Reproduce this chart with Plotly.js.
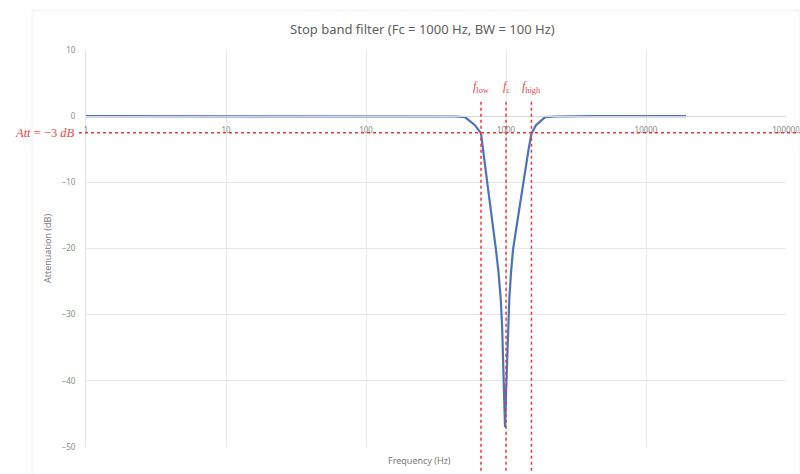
<!DOCTYPE html>
<html>
<head>
<meta charset="utf-8">
<script src="https://cdn.plot.ly/plotly-3.0.1.min.js"></script>
<style>html,body{margin:0;padding:0;background:#fff;}#chart{width:800px;height:474px;}</style>
</head>
<body>
<div id="chart"></div>
<script>
// Frequency response
var freq = [1, 10, 100, 200, 300, 432, 509, 600, 663, 689, 716, 747, 781, 814, 848, 884, 917, 939, 956, 969, 984, 1000, 1015, 1033, 1056, 1086, 1122, 1179, 1239, 1308, 1378, 1448, 1521, 1638, 1900, 2276, 4000, 10000, 19300];
var att  = [0, 0, 0, 0, 0, -0.05, -0.15, -1.36, -2.6, -5.1, -8.2, -11.2, -14.2, -17.2, -20.2, -23.6, -27.6, -32, -37, -42, -47, -42, -37, -32, -27.6, -23.6, -20.2, -17.2, -14.2, -11.2, -8.2, -5.1, -2.6, -1.36, -0.15, -0.05, 0, 0, 0];

// Marker lines
var markerFreqs = [663, 1000, 1520];
var markerLabels = ['<i>f</i><sub>low</sub>', '<i>f</i><sub>c</sub>', '<i>f</i><sub>high</sub>'];
var attLevel = -2.5;
var attLabel = '<i>Att</i> = −3 <i>dB</i>';

// Axis ticks
var xTickVals = [1, 10, 100, 1000, 10000, 100000];
var xTickText = ['1', '10', '100', '1000', '10000', '100000'];
var yTickVals = [10, 0, -10, -20, -30, -40, -50];

var red = '#e8393a';
var shapes = [];
markerFreqs.forEach(function (f) {
  shapes.push({type: 'line', xref: 'x', yref: 'paper', x0: f, x1: f, y0: -0.06, y1: 0.877,
               line: {color: red, width: 1.5, dash: 'dot'}});
});
shapes.push({type: 'line', xref: 'paper', yref: 'y', x0: -0.01, x1: 1.03, y0: attLevel, y1: attLevel,
             line: {color: red, width: 1.5, dash: 'dot'}});
shapes.push({type: 'rect', xref: 'paper', yref: 'paper', x0: -0.077, x1: 1.02, y0: -0.07, y1: 1.1,
             line: {color: '#f0f0f0', width: 1}, fillcolor: 'rgba(0,0,0,0)'});

var annotations = [];
markerFreqs.forEach(function (f, i) {
  annotations.push({xref: 'x', yref: 'paper', x: Math.log10(f), y: 0.907, text: markerLabels[i],
                    showarrow: false, xanchor: 'center', yanchor: 'middle',
                    font: {family: 'Liberation Serif, DejaVu Serif, serif', size: 12, color: '#e4484a'}});
});
annotations.push({xref: 'paper', yref: 'y', x: -0.013, y: attLevel, text: attLabel, showarrow: false,
                  xanchor: 'right', yanchor: 'middle',
                  font: {family: 'Liberation Serif, DejaVu Serif, serif', size: 12.5, color: '#e4484a'}});

var trace = {
  x: freq, y: att, type: 'scatter', mode: 'lines',
  line: {color: '#4a74ba', width: 2.2, shape: 'linear'},
  hoverinfo: 'skip'
};

var layout = {
  width: 800, height: 474,
  margin: {l: 86, r: 14, t: 50, b: 27},
  paper_bgcolor: '#fff', plot_bgcolor: '#fff',
  showlegend: false,
  title: {text: 'Stop band filter (Fc = 1000 Hz, BW = 100 Hz)', x: 0.528, xanchor: 'center', y: 0.937, yanchor: 'middle',
          font: {family: 'Noto Sans, Open Sans, sans-serif', size: 13, color: '#606060'}},
  xaxis: {
    type: 'log', range: [0, 5], anchor: 'free', position: 0.8333,
    tickvals: xTickVals, ticktext: xTickText, ticks: '',
    ticklabeloverflow: 'allow', ticklabelstandoff: 6,
    showgrid: true, gridcolor: '#e6e6e6', gridwidth: 1,
    showline: true, linecolor: '#d9d9d9', linewidth: 1,
    zeroline: false,
    tickfont: {family: 'Noto Sans, sans-serif', size: 8, color: '#8a8a8a'},
    title: {text: ''}
  },
  yaxis: {
    range: [-50, 10], tickvals: yTickVals, ticks: '',
    ticklabelstandoff: 8,
    showgrid: true, gridcolor: '#e6e6e6', gridwidth: 1,
    zeroline: false, showline: true, linecolor: '#e3e3e3',
    tickfont: {family: 'Noto Sans, sans-serif', size: 8, color: '#8a8a8a'},
    title: {text: 'Attenuation (dB)', standoff: 8, font: {family: 'Noto Sans, sans-serif', size: 9, color: '#7a7a7a'}}
  },
  shapes: shapes,
  annotations: annotations.concat([
    {xref: 'paper', yref: 'paper', x: 0.476, y: -0.035, text: 'Frequency (Hz)', showarrow: false,
     xanchor: 'center', yanchor: 'middle', font: {family: 'Noto Sans, sans-serif', size: 9, color: '#7a7a7a'}}
  ])
};

Plotly.newPlot('chart', [trace], layout, {displayModeBar: false, staticPlot: true});
</script>
</body>
</html>
